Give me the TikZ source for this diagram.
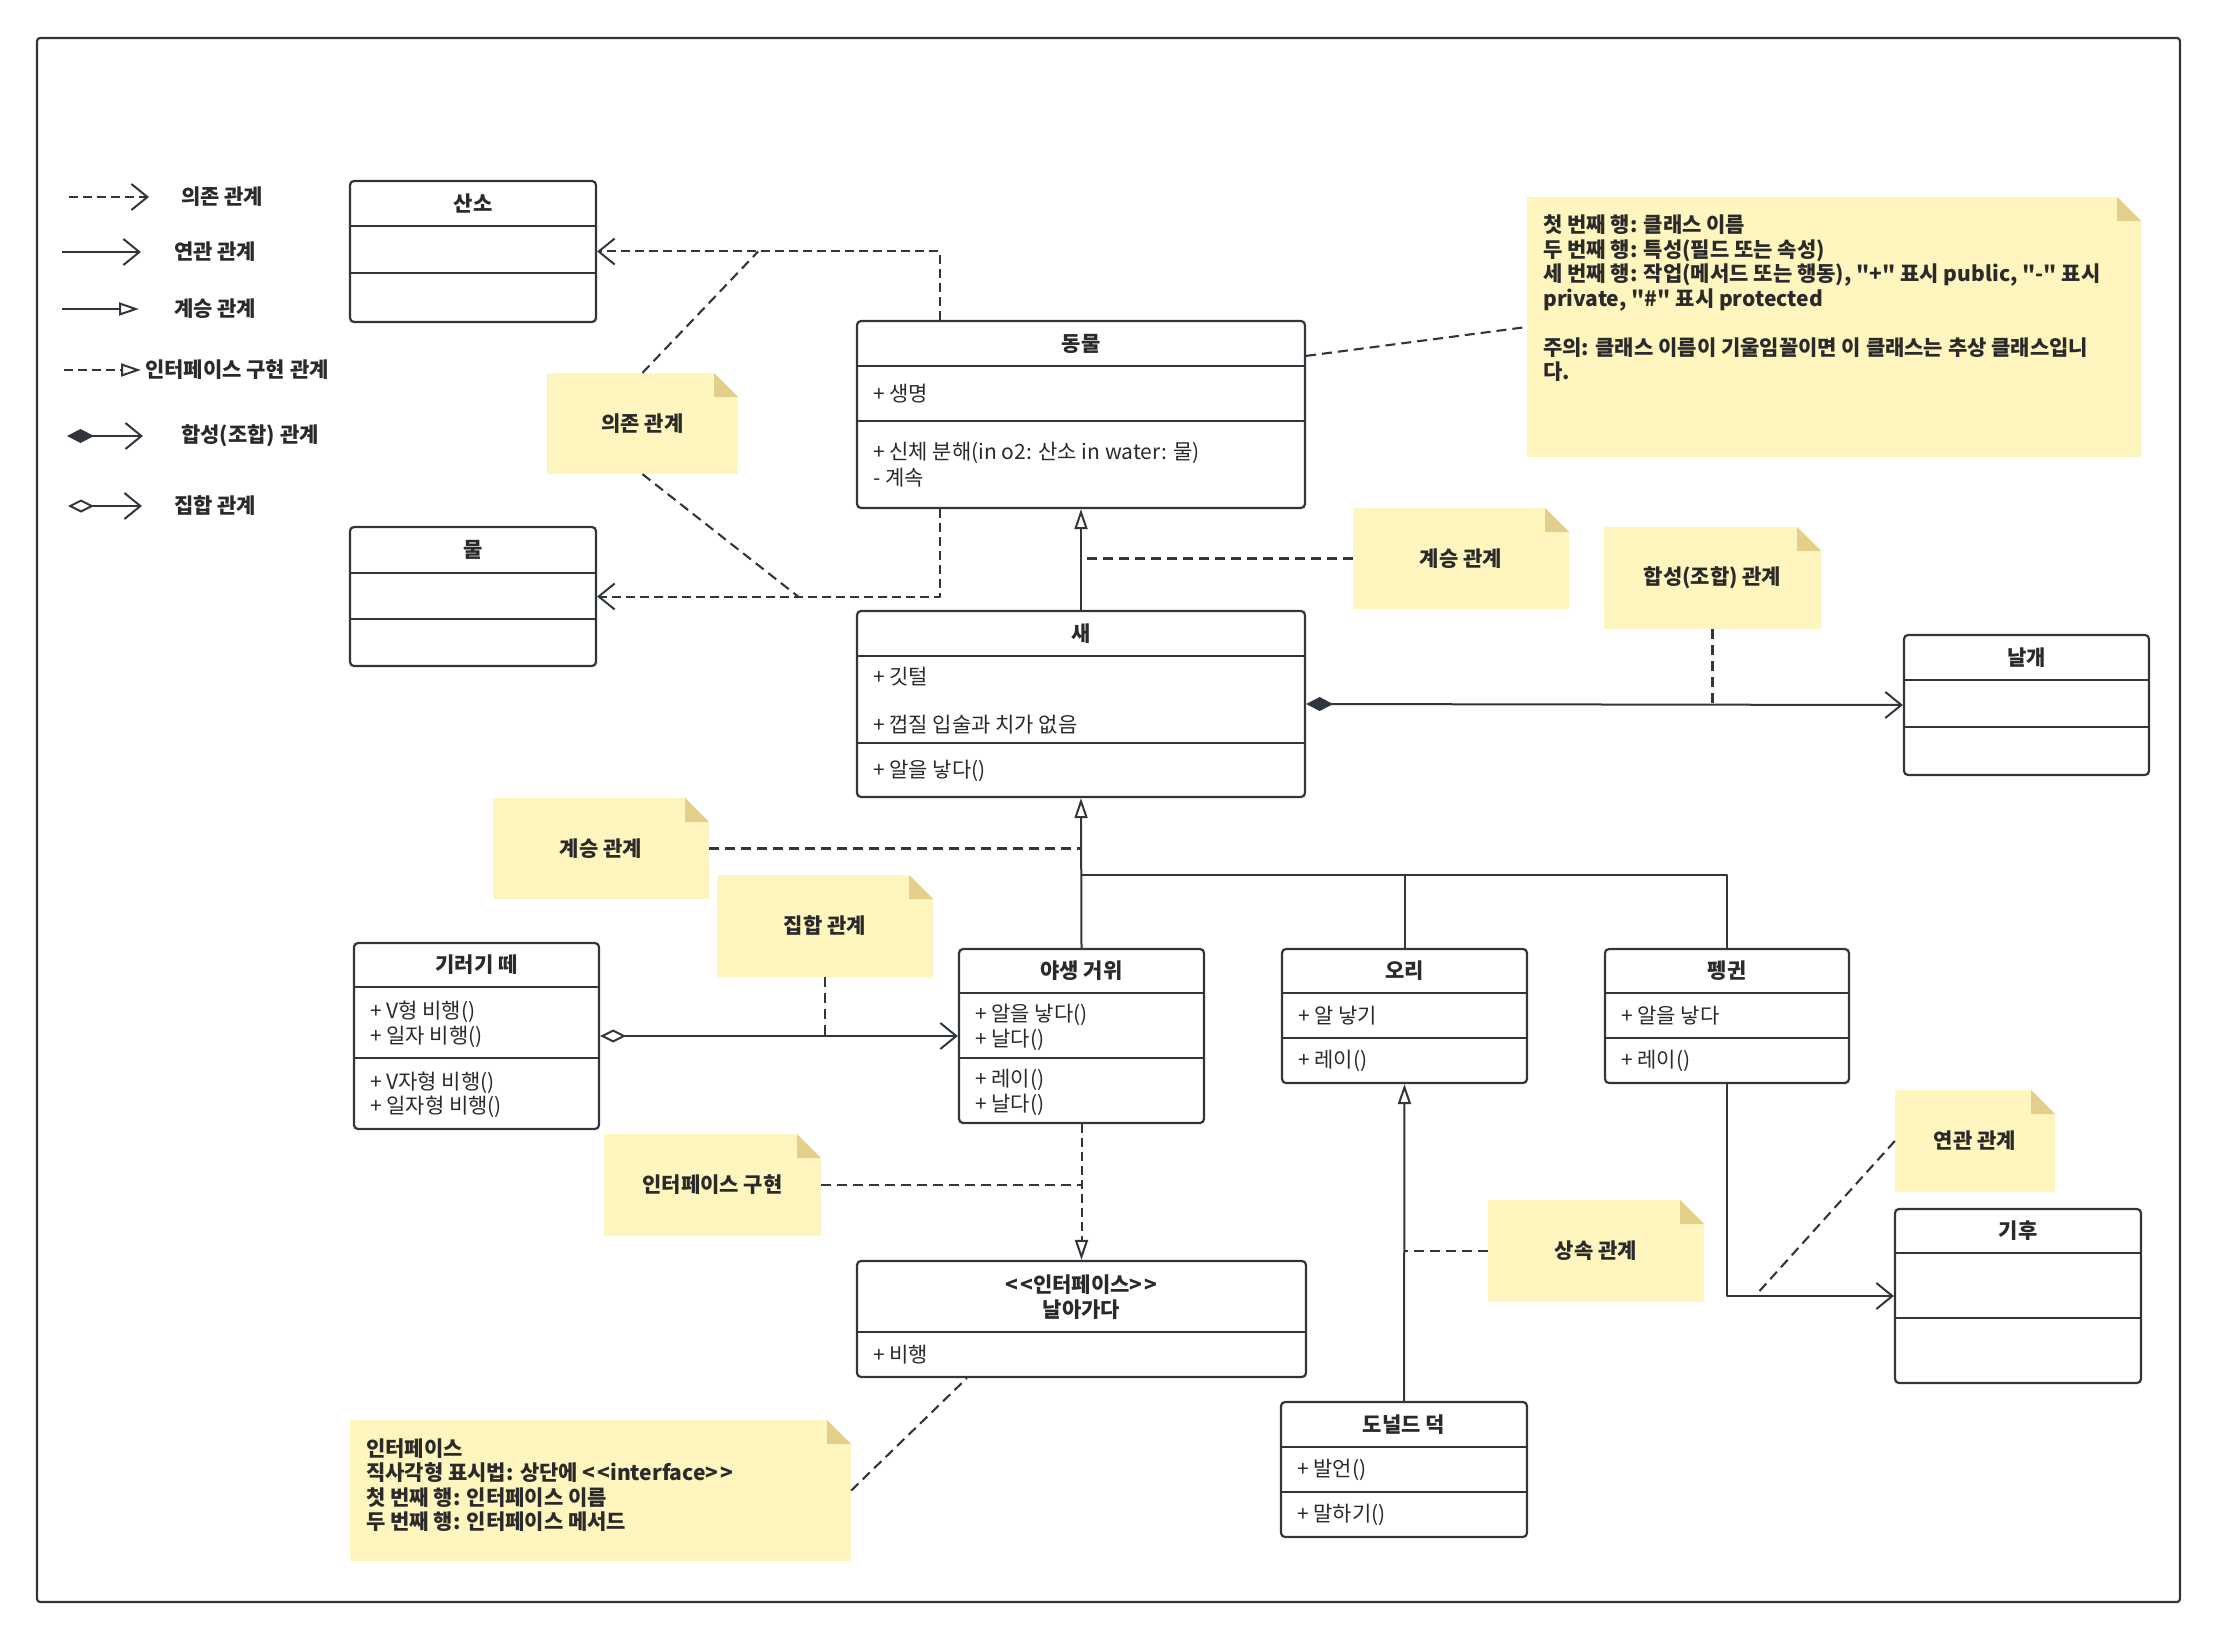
\documentclass[tikz,border=0pt]{standalone}
\usepackage{fontspec}
\setmainfont{Noto Sans CJK KR}[Ligatures=TeXOff]
\usetikzlibrary{arrows.meta,calc}
\definecolor{ink}{HTML}{30363C}
\definecolor{txt}{HTML}{2A2A2A}
\definecolor{notefill}{HTML}{FFF5BE}
\definecolor{foldfill}{HTML}{E3CF8A}

\tikzset{
  umlbarb/.tip={Straight Barb[length=16pt,width=26pt]},
  umltri/.tip={Triangle[open,length=20pt,width=13pt,fill=white]},
  umlfdia/.tip={Diamond[length=27pt,width=14pt]},
  umlodia/.tip={Diamond[open,length=26pt,width=13pt,fill=white]},
}

\newcommand{\umlclass}[6]{%
  \node[classbox, minimum width={(#4)-(#2)}, minimum height={(#5)-(#3)}] (#1) at ({((#2)+(#4))/2},{((#3)+(#5))/2}) {};
  \foreach \dv in {#6} {\draw[classline] (#2,\dv) -- (#4,\dv);}
}
\newcommand{\notebox}[5]{%
  \fill[notefill] (#2,#3) -- ({#4-24},#3) -- (#4,{#3+24}) -- (#4,#5) -- (#2,#5) -- cycle;
  \fill[foldfill] ({#4-24},#3) -- ({#4-24},{#3+24}) -- (#4,{#3+24}) -- cycle;
  \node[minimum width={(#4)-(#2)}, minimum height={(#5)-(#3)}] (#1) at ({((#2)+(#4))/2},{((#3)+(#5))/2}) {};
}

\begin{document}
\begin{tikzpicture}[x=1pt,y=-1pt, line join=round,
  every node/.style={text=txt, font=\fontsize{21pt}{24.5pt}\selectfont, inner sep=0pt},
  boldtext/.style={font=\fontsize{21pt}{24.5pt}\selectfont\bfseries},
  classbox/.style={draw=ink, line width=2.2pt, rounded corners=4pt, fill=white, rectangle},
  classline/.style={draw=ink, line width=2.2pt},
  conn/.style={draw=ink, line width=2pt},
  dep/.style={conn, dash pattern=on 9pt off 5pt},
  notelink/.style={draw=ink, line width=2.1pt, dash pattern=on 10pt off 6pt},
  member/.style={anchor=west},
]
\useasboundingbox (0,0) rectangle (2217,1640);
\draw[ink, line width=2.2pt, rounded corners=3pt] (37,38) rectangle (2180,1602);

% ---------- legend ----------
\coordinate (la1) at (69,197);  \coordinate (lb1) at (149,197);
\draw[dep,-umlbarb] (la1) -- (lb1);
\node[boldtext, anchor=west] (lt1) at (181,197) {의존 관계};
\coordinate (la2) at (62,252);  \coordinate (lb2) at (141,252);
\draw[conn,-umlbarb] (la2) -- (lb2);
\node[boldtext, anchor=west] (lt2) at (174,252) {연관 관계};
\coordinate (la3) at (62,309);  \coordinate (lb3) at (139,309);
\draw[conn,-umltri] (la3) -- (lb3);
\node[boldtext, anchor=west] (lt3) at (174,309) {계승 관계};
\coordinate (la4) at (64,370);  \coordinate (lb4) at (141,370);
\draw[dep,-umltri] (la4) -- (lb4);
\node[boldtext, anchor=west] (lt4) at (145,370) {인터페이스 구현 관계};
\coordinate (la5) at (67,436);  \coordinate (lb5) at (143,436);
\draw[conn,umlfdia-umlbarb] (la5) -- (lb5);
\node[boldtext, anchor=west] (lt5) at (181,436) {합성(조합) 관계};
\coordinate (la6) at (68,506);  \coordinate (lb6) at (142,506);
\draw[conn,umlodia-umlbarb] (la6) -- (lb6);
\node[boldtext, anchor=west] (lt6) at (174,506) {집합 관계};

% ---------- notes ----------
\notebox{nDep}{547}{373}{738}{474}
\node[boldtext] (tDep) at (nDep) {의존 관계};
\notebox{nInhR}{1353}{508}{1569}{609}
\node[boldtext] (tInhR) at (nInhR) {계승 관계};
\notebox{nComp}{1604}{527}{1821}{629}
\node[boldtext] (tComp) at (nComp) {합성(조합) 관계};
\notebox{nInfo}{1527}{197}{2141}{457}
\node[boldtext, anchor=west, align=left] (tInfo) at (1543,298.5) {첫 번째 행: 클래스 이름\\두 번째 행: 특성(필드 또는 속성)\\세 번째 행: 작업(메서드 또는 행동), "+" 표시 public, "-" 표시\\private, "\#" 표시 protected\\[24.5pt]주의: 클래스 이름이 기울임꼴이면 이 클래스는 추상 클래스입니\\다.};
\notebox{nInhL}{493}{798}{709}{899}
\node[boldtext] (tInhL) at (nInhL) {계승 관계};
\notebox{nAgg}{717}{875}{933}{977}
\node[boldtext] (tAgg) at (nAgg) {집합 관계};
\notebox{nReal}{604}{1134}{821}{1236}
\node[boldtext] (tReal) at (nReal) {인터페이스 구현};
\notebox{nInh3}{1488}{1200}{1704}{1302}
\node[boldtext] (tInh3) at (nInh3) {상속 관계};
\notebox{nAssoc}{1895}{1090}{2055}{1192}
\node[boldtext] (tAssoc) at (nAssoc) {연관 관계};
\notebox{nIface}{350}{1420}{851}{1561}
\node[boldtext, anchor=west, align=left] (tIface) at (366,1485) {인터페이스\\직사각형 표시법: 상단에 <\kern2pt<interface>\kern2pt>\\첫 번째 행: 인터페이스 이름\\두 번째 행: 인터페이스 메서드};

% ---------- classes ----------
\umlclass{sanso}{350}{181}{596}{322}{226,273}
\node[boldtext] (tSanso) at (473,203.5) {산소};
\umlclass{water}{350}{527}{596}{666}{573,619}
\node[boldtext] (tWater) at (473,550) {물};
\umlclass{animal}{857}{321}{1305}{508}{366,421}
\node[boldtext] (tAnimal) at (1081,343.5) {동물};
\node[member] (mA1) at (873,394) {+ 생명};
\node[member] (mA2) at (873,453) {+ 신체 분해(in o2: 산소 in water: 물)};
\node[member] (mA3) at (873,478) {- 계속};
\umlclass{sae}{857}{611}{1305}{797}{656,743}
\node[boldtext] (tSae) at (1081,633.5) {새};
\node[member] (mB1) at (873,677) {+ 깃털};
\node[member] (mB2) at (873,725) {+ 껍질 입술과 치가 없음};
\node[member] (mB3) at (873,771) {+ 알을 낳다()};
\umlclass{wing}{1904}{635}{2149}{775}{680,727}
\node[boldtext] (tWing) at (2026.5,657.5) {날개};
\umlclass{geese}{354}{943}{599}{1129}{987,1058}
\node[boldtext] (tGeese) at (476.5,965) {기러기 떼};
\node[member] (mG1) at (370,1012) {+ V형 비행()};
\node[member] (mG2) at (370,1037) {+ 일자 비행()};
\node[member] (mG3) at (370,1083) {+ V자형 비행()};
\node[member] (mG4) at (370,1107) {+ 일자형 비행()};
\umlclass{goose}{959}{949}{1204}{1123}{993,1058}
\node[boldtext] (tGoose) at (1081.5,971) {야생 거위};
\node[member] (mW1) at (975,1015) {+ 알을 낳다()};
\node[member] (mW2) at (975,1040) {+ 날다()};
\node[member] (mW3) at (975,1080) {+ 레이()};
\node[member] (mW4) at (975,1105) {+ 날다()};
\umlclass{duck}{1282}{949}{1527}{1083}{993,1038}
\node[boldtext] (tDuck) at (1404.5,971) {오리};
\node[member] (mD1) at (1298,1016) {+ 알 낳기};
\node[member] (mD2) at (1298,1061) {+ 레이()};
\umlclass{penguin}{1605}{949}{1849}{1083}{993,1038}
\node[boldtext] (tPenguin) at (1727,971) {펭귄};
\node[member] (mP1) at (1621,1016) {+ 알을 낳다};
\node[member] (mP2) at (1621,1061) {+ 레이()};
\umlclass{climate}{1895}{1209}{2141}{1383}{1253,1318}
\node[boldtext] (tClimate) at (2018,1231) {기후};
\umlclass{donald}{1281}{1402}{1527}{1537}{1447,1492}
\node[boldtext] (tDonald) at (1404,1424.5) {도널드 덕};
\node[member] (mN1) at (1297,1470) {+ 발언()};
\node[member] (mN2) at (1297,1515) {+ 말하기()};
\umlclass{fly}{857}{1261}{1306}{1377}{1332}
\node[boldtext, align=center] (tFly) at (1081.5,1297) {<\kern2pt<인터페이스>\kern2pt>\\날아가다};
\node[member] (mF1) at (873,1355) {+ 비행};

% ---------- connectors ----------
\draw[dep,-umlbarb] ([xshift=84pt]animal.north west) |- (sanso.east);
\draw[dep,-umlbarb] ([xshift=84pt]animal.south west) |- (water.east);
\coordinate (k1) at ($(sanso.east)+(161,0)$);
\coordinate (k2) at ($(water.east)+(201,0)$);
\draw[notelink] (nDep.north) -- (k1);
\draw[notelink] (nDep.south) -- (k2);

\draw[conn,-umltri] (sae.north) -- (animal.south);
\draw[notelink] (nInhR.west) -- (nInhR.west -| sae.north);
\draw[conn,umlfdia-umlbarb] (sae.east) -- (wing.west);
\draw[notelink] (nComp.south) -- (nComp.south |- sae.east);
\draw[notelink] ([yshift=-36pt]animal.north east) -- (nInfo.west);

\coordinate (br) at ($(sae.south)+(0,77)$);
\draw[conn,-umltri] (goose.north) -- (sae.south);
\draw[conn] (duck.north) |- (br);
\draw[conn] (penguin.north) |- (br);
\draw[notelink] (nInhL.east) -- (nInhL.east -| sae.south);

\draw[conn,umlodia-umlbarb] (geese.east) -- (goose.west);
\draw[notelink] (nAgg.south) -- (nAgg.south |- geese.east);

\draw[dep,-umltri] (goose.south) -- (fly.north);
\draw[notelink] (nReal.east) -- (nReal.east -| goose.south);
\draw[notelink] (nIface.east) -- ([xshift=111pt]fly.south west);

\draw[conn,-umltri] (donald.north) -- (duck.south);
\draw[notelink] (nInh3.west) -- (nInh3.west -| duck.south);

\draw[conn,-umlbarb] (penguin.south) |- (climate.west);
\coordinate (k3) at ($(penguin.south |- climate.west)+(28,0)$);
\draw[notelink] (nAssoc.west) -- (k3);
\end{tikzpicture}
\end{document}
